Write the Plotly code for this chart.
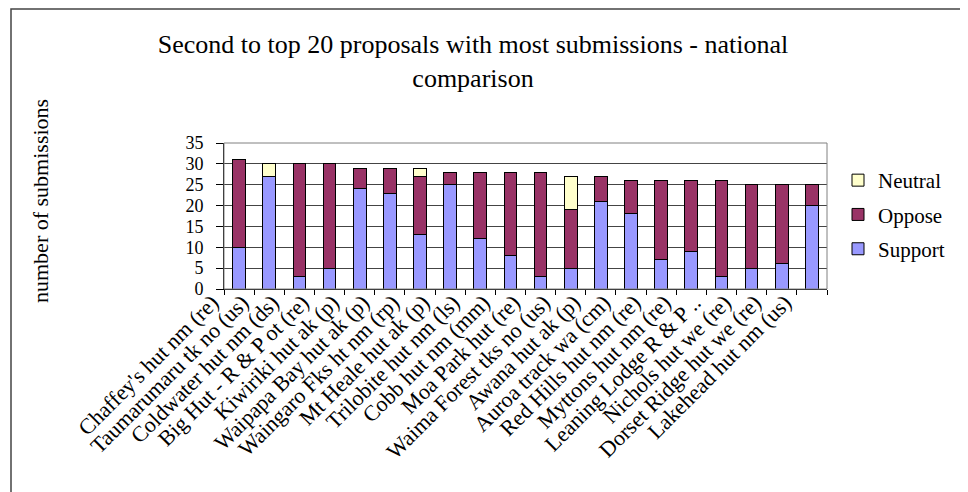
import plotly.graph_objects as go

categories = [
    "Chaffey's hut nm (re)", "Taumarumaru tk no (us)", "Coldwater hut nm (ds)",
    "Big Hut - R & P ot (re)", "Kiwiriki hut ak (p)", "Waipapa Bay hut ak (p)",
    "Waingaro Fks ht nm (rp)", "Mt Heale hut ak (p)", "Trilobite hut nm (ls)",
    "Cobb hut nm (mm)", "Moa Park hut (re)", "Waima Forest tks no (us)",
    "Awana hut ak (p)", "Auroa track wa (cm)", "Red Hills hut nm (re)",
    "Myttons hut nm (re)", "Leaning Lodge R & P ..", "Nichols hut we (re)",
    "Dorset Ridge hut we (re)", "Lakehead hut nm (us)",
]
support = [10, 27, 3, 5, 24, 23, 13, 25, 12, 8, 3, 5, 21, 18, 7, 9, 3, 5, 6, 20]
oppose = [21, 0, 27, 25, 5, 6, 14, 3, 16, 20, 25, 14, 6, 8, 19, 17, 23, 20, 19, 5]
neutral = [0, 3, 0, 0, 0, 0, 2, 0, 0, 0, 0, 8, 0, 0, 0, 0, 0, 0, 0, 0]

y_ticks = [0, 5, 10, 15, 20, 25, 30, 35]

FONT = "Liberation Serif, Times New Roman, serif"

fig = go.Figure()
series = [("Support", support, "#9999FF", 3),
          ("Oppose", oppose, "#993366", 2),
          ("Neutral", neutral, "#FFFFCC", 1)]
for name, vals, col, rank in series:
    fig.add_trace(go.Bar(
        x=categories, y=vals, name=name, legendgroup=name, legendrank=rank,
        marker=dict(color=col, line=dict(color="#000000", width=1)),
    ))

# page body has an 8px margin: figure coordinates = screen - 8
W, H = 960, 484
L, R, T, B = 216, 141, 135, 203
pw, ph = W - L - R, H - T - B

def px_x(px):
    return (px - L) / pw

def px_y(py):
    return (H - B - py) / ph

fig.update_layout(
    width=W, height=H,
    margin=dict(l=L, r=R, t=T, b=B, autoexpand=False),
    barmode="stack", bargap=0.58,
    paper_bgcolor="white", plot_bgcolor="white",
    font=dict(family=FONT, color="black", size=20),
    title=dict(
        text="Second to top 20 proposals with most submissions - national<br>comparison",
        x=465 / W, xanchor="center", xref="container",
        y=1 - 45 / H, yanchor="top", yref="container",
        font=dict(family=FONT, size=26, color="black"),
    ),
    legend=dict(
        traceorder="grouped", x=px_x(830), xanchor="left",
        y=px_y(152), yanchor="top", tracegroupgap=4,
        font=dict(family=FONT, size=21, color="black"),
        bgcolor="rgba(0,0,0,0)", itemwidth=30,
    ),
    xaxis=dict(
        type="category", tickangle=-45, tickson="boundaries",
        ticks="outside", ticklen=5, tickcolor="black",
        showline=True, linecolor="black", linewidth=1, mirror=False,
        showgrid=False, automargin=False,
        ticklabelshift=-27, ticklabelstandoff=-9,
        tickfont=dict(family=FONT, size=22, color="black"),
    ),
    yaxis=dict(
        range=[0, 35], tickvals=y_ticks, ticks="outside", ticklen=7,
        tickcolor="black", showline=True, linecolor="black", linewidth=1,
        showgrid=True, gridcolor="#444444", gridwidth=1, zeroline=False,
        automargin=False, ticklabelstandoff=9,
        tickfont=dict(family=FONT, size=18, color="black"),
    ),
    annotations=[dict(
        text="number of submissions", textangle=-90,
        xref="paper", yref="paper", x=px_x(32), y=px_y(193),
        xanchor="center", yanchor="middle", showarrow=False,
        font=dict(family=FONT, size=22, color="black"),
    )],
    shapes=[
        dict(type="rect", xref="paper", yref="paper",
             x0=0, x1=1, y0=0, y1=1, line=dict(color="#808080", width=1),
             layer="above"),
        dict(type="rect", xref="paper", yref="paper",
             x0=px_x(3), x1=px_x(1000), y0=px_y(520), y1=px_y(1),
             line=dict(color="#444444", width=1.5)),
    ],
)

fig.write_html("out.html")
